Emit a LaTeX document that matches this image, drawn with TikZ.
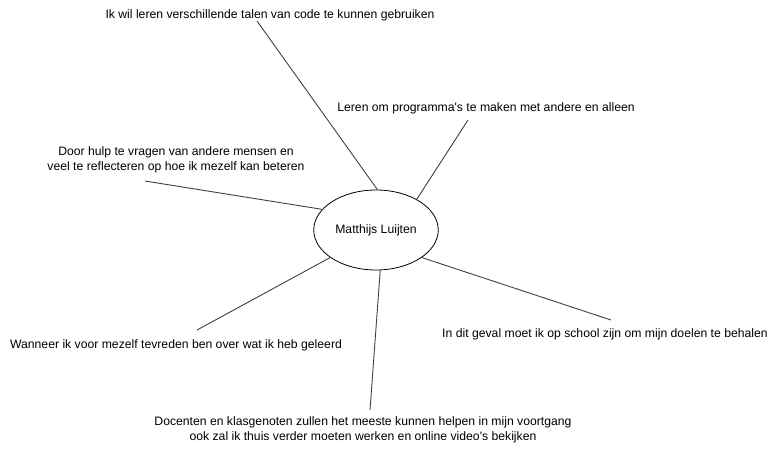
\documentclass[tikz,border=0pt]{standalone}
\usepackage{fontspec}
\newfontfamily\diagfont{Liberation Sans}
\usetikzlibrary{shapes.geometric}

\begin{document}
\begin{tikzpicture}[
    x=1pt, y=-1pt,
    goal/.style={font=\diagfont\fontsize{12.2}{15}\selectfont, align=center, inner sep=0pt},
    spoke/.style={draw=black!75, line width=0.9pt}
]
    \useasboundingbox (0,0) rectangle (776,451);

    \node[ellipse, draw, line width=0.8pt, minimum width=121pt, minimum height=80pt,
          font=\diagfont\fontsize{12.2}{15}\selectfont] (me) at (376,230) {Matthijs Luijten};

    \node[goal] (talen)   at (270,15)  {Ik wil leren verschillende talen van code te kunnen gebruiken};
    \node[goal] (prog)    at (486,108) {Leren om programma's te maken met andere en alleen};
    \node[goal] (hulp)    at (176,160) {Door hulp te vragen van andere mensen en\\veel te reflecteren op hoe ik mezelf kan beteren};
    \node[goal] (tevreden) at (176,345) {Wanneer ik voor mezelf tevreden ben over wat ik heb geleerd};
    \node[goal] (school)  at (605,334) {In dit geval moet ik op school zijn om mijn doelen te behalen};
    \node[goal] (docent)  at (363,430) {Docenten en klasgenoten zullen het meeste kunnen helpen in mijn voortgang\\ook zal ik thuis verder moeten werken en online video's bekijken};

    % free ends of the spokes
    \coordinate (talen-end)    at (257,21);
    \coordinate (prog-end)     at (468,120);
    \coordinate (hulp-end)     at (145,181);
    \coordinate (tevreden-end) at (197,330);
    \coordinate (school-end)   at (611,320);
    \coordinate (docent-end)   at (370,410);

    \draw[spoke] (talen-end)    -- (me.88);
    \draw[spoke] (prog-end)     -- (me.37);
    \draw[spoke] (hulp-end)     -- (me.159);
    \draw[spoke] (tevreden-end) -- (me.211);
    \draw[spoke] (school-end)   -- (me.329);
    \draw[spoke] (docent-end)   -- (me.276);
\end{tikzpicture}
\end{document}
